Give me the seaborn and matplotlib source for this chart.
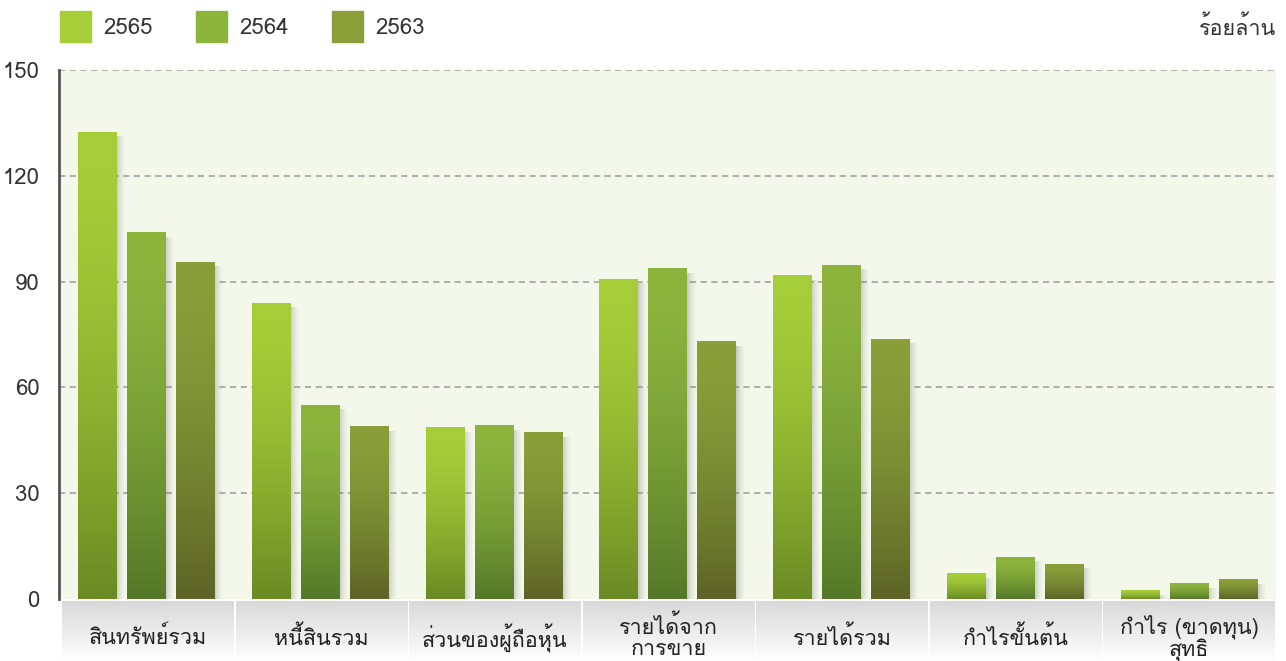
import numpy as np
import pandas as pd
import seaborn as sns
import matplotlib.pyplot as plt
from matplotlib import font_manager
from matplotlib.ft2font import FT2Font
from matplotlib.patches import Rectangle

# Data (hundred million baht)
categories = ['สินทรัพย์รวม', 'หนี้สินรวม', 'ส่วนของผู้ถือหุ้น', 'รายได้จาก\nการขาย',
              'รายได้รวม', 'กำไรขั้นต้น', 'กำไร (ขาดทุน)\nสุทธิ']
years = ['2565', '2564', '2563']
v2565 = [132.4, 83.9, 48.5, 90.7, 91.6, 7.1, 2.3]
v2564 = [103.8, 55.0, 49.1, 93.6, 94.7, 11.9, 4.3]
v2563 = [95.5, 48.8, 47.1, 72.9, 73.7, 9.9, 5.4]
yticks = [0, 30, 60, 90, 120, 150]
unit_label = 'ร้อยล้าน'

top_cols = {'2565': '#a6ce39', '2564': '#8db53e', '2563': '#8a9f3a'}
bot_cols = {'2565': '#6a8a24', '2564': '#557828', '2563': '#5c6426'}

# find a font that has Thai glyphs
thai = None
for f in font_manager.fontManager.ttflist:
    try:
        if 0x0E01 in FT2Font(f.fname).get_charmap():
            thai = f.name
            break
    except Exception:
        pass

sns.set_style('white')
plt.rcParams['font.family'] = [thai, 'DejaVu Sans'] if thai else ['DejaVu Sans']

df = pd.DataFrame({'category': categories * 3,
                   'year': [y for y in years for _ in categories],
                   'value': v2565 + v2564 + v2563})

fig = plt.figure(figsize=(12.86, 6.61), dpi=100)
W, H = 1286, 661
ax = fig.add_axes([59 / W, (H - 599) / H, 1217 / W, 529 / H])
ax.set_facecolor('#f4f8ea')

sns.barplot(data=df, x='category', y='value', hue='year', hue_order=years,
            palette=top_cols, width=0.845, gap=0.22, ax=ax, legend=False)

ax.set_xlim(-0.5, len(categories) - 0.5)
ax.set_ylim(0, 150)
ax.set_yticks(yticks)
ax.set_yticklabels([str(t) for t in yticks], fontsize=16, color='#333333')
ax.tick_params(axis='y', length=0, pad=14)
ax.set_xticks([])
ax.set_xlabel('')
ax.set_ylabel('')
for t in yticks[1:]:
    ax.axhline(t, color='#9a9a9a', lw=1.1, ls=(0, (4, 3)), zorder=0.5)
for s in ['top', 'right', 'bottom']:
    ax.spines[s].set_visible(False)
ax.spines['left'].set_color('#555555')
ax.spines['left'].set_linewidth(2)

# gradient fill + shadow for each bar
n = len(categories)
for i, patch in enumerate(ax.patches[:3 * n]):
    yr = years[i // n]
    x0, w, h = patch.get_x(), patch.get_width(), patch.get_height()
    patch.set_visible(False)
    t = np.linspace(0, 1, 200) ** 1.6
    c0 = np.array(plt.matplotlib.colors.to_rgb(top_cols[yr]))
    c1 = np.array(plt.matplotlib.colors.to_rgb(bot_cols[yr]))
    grad = (c0[None, :] * (1 - t[:, None]) + c1[None, :] * t[:, None])[:, None, :]
    # soft shadow to the right
    sw = 0.055
    sh = np.zeros((1, 20, 4))
    sh[..., :3] = 0.45
    sh[0, :, 3] = 0.35 * np.linspace(1, 0, 20) ** 1.5
    ax.imshow(sh, extent=[x0 + w, x0 + w + sw, 0, max(h - 1.2, 0)], aspect='auto',
              interpolation='bilinear', zorder=1.5)
    ax.imshow(grad, extent=[x0, x0 + w, 0, h], aspect='auto',
              interpolation='bilinear', zorder=2)
ax.set_xlim(-0.5, n - 0.5)
ax.set_ylim(0, 150)

# category label band
lab = fig.add_axes([61 / W, 0, 1215 / W, 60 / H])
lab.set_xlim(-0.5, n - 0.5)
lab.set_ylim(0, 1)
lab.axis('off')
g = np.linspace(0, 1, 100)
band = np.ones((100, 1, 3)) * (0.85 + 0.15 * g)[:, None, None]
for i, cat in enumerate(categories):
    lab.imshow(band, extent=[i - 0.5 + 0.006, i + 0.5 - 0.006, 0, 1], aspect='auto',
               interpolation='bilinear')
    lab.text(i, 0.38, cat, ha='center', va='center', fontsize=15.5,
             color='#222222', linespacing=1.0)
lab.set_xlim(-0.5, n - 0.5)
lab.set_ylim(0, 1)

# legend
for k, yr in enumerate(years):
    x = 60 + 136 * k
    fig.patches.append(Rectangle((x / W, (H - 42) / H), 31 / W, 31 / H,
                                 transform=fig.transFigure, color=top_cols[yr]))
    fig.text((x + 43) / W, (H - 28) / H, yr, fontsize=16, va='center',
             color='#333333')
fig.text(1276 / W, (H - 28) / H, unit_label, fontsize=15.5, va='center', ha='right',
         color='#333333')

fig.savefig('out.png', dpi=100, facecolor='white')
